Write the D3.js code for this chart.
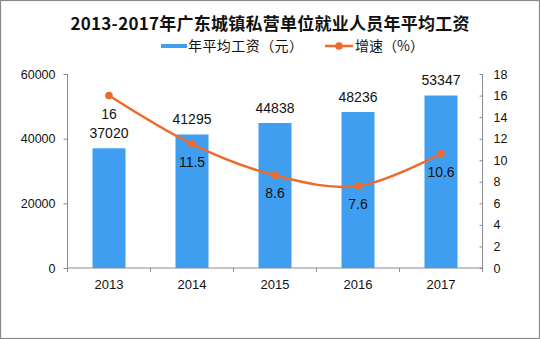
<!DOCTYPE html>
<html>
<head>
<meta charset="utf-8">
<script src="https://cdn.jsdelivr.net/npm/d3@7"></script>
<style>
  html, body { margin: 0; padding: 0; background: #fff; }
  svg { display: block; }
  text { font-family: "Liberation Sans", "Noto Sans CJK SC", sans-serif; }
</style>
</head>
<body>
<svg id="chart" width="540" height="339"></svg>
<script>
const titleText = "2013-2017年广东城镇私营单位就业人员年平均工资";
const categories = ["2013", "2014", "2015", "2016", "2017"];
const wages = [37020, 41295, 44838, 48236, 53347];
const growth = [16, 11.5, 8.6, 7.6, 10.6];
const leftTicks = [0, 20000, 40000, 60000];
const rightTicks = [0, 2, 4, 6, 8, 10, 12, 14, 16, 18];
const legendLabels = ["年平均工资（元）", "增速（%）"];

const barColor = "#3f9ef0";
const lineColor = "#ee6a2b";
const axisColor = "#8c8c8c";

const svg = d3.select("#chart");
const W = 540, H = 339;
const plot = { left: 67.5, right: 482.5, top: 74, bottom: 268 };

// frame
svg.append("rect").attr("x", 0.5).attr("y", 0.5).attr("width", W - 1).attr("height", H - 1)
  .attr("fill", "#fff").attr("stroke", "#888").attr("stroke-width", 1.2);

// title
svg.append("text").attr("x", 70.5).attr("y", 29.5)
  .style("font-family", "'Noto Sans CJK SC', sans-serif")
  .style("font-weight", "bold").style("font-size", "17px").attr("fill", "#111")
  .attr("textLength", 399).attr("lengthAdjust", "spacing")
  .text(titleText);

// legend
const lg = svg.append("g");
lg.append("rect").attr("x", 161).attr("y", 44).attr("width", 26).attr("height", 4).attr("fill", barColor);
lg.append("text").attr("x", 188).attr("y", 51).style("font-family", "'Noto Sans CJK SC', sans-serif")
  .style("font-size", "14px").attr("fill", "#111")
  .attr("textLength", 115).attr("lengthAdjust", "spacing").text(legendLabels[0]);
lg.append("line").attr("x1", 325).attr("x2", 353).attr("y1", 46).attr("y2", 46)
  .attr("stroke", lineColor).attr("stroke-width", 2.5);
lg.append("circle").attr("cx", 339).attr("cy", 46).attr("r", 3.8).attr("fill", lineColor);
lg.append("text").attr("x", 355).attr("y", 51).style("font-family", "'Noto Sans CJK SC', sans-serif")
  .style("font-size", "14px").attr("fill", "#111").text(legendLabels[1]);

// scales
const xBand = d3.scaleBand().domain(categories).range([plot.left, plot.right]);
const yL = d3.scaleLinear().domain([0, 60000]).range([plot.bottom, plot.top]);
const yR = d3.scaleLinear().domain([0, 18]).range([plot.bottom, plot.top]);

// bars
svg.append("g").selectAll("rect").data(categories).join("rect")
  .attr("x", d => xBand(d) + xBand.bandwidth() / 2 - 16.5)
  .attr("width", 33)
  .attr("y", (d, i) => yL(wages[i]))
  .attr("height", (d, i) => plot.bottom - yL(wages[i]))
  .attr("fill", barColor);

// left axis
const axL = svg.append("g").attr("transform", `translate(${plot.left},0)`)
  .call(d3.axisLeft(yL).tickValues(leftTicks).tickSize(4).tickPadding(8).tickFormat(d3.format("d")));
axL.select(".domain").attr("stroke", axisColor).attr("d", `M-0,${plot.top}V${plot.bottom}`);
axL.selectAll(".tick line").attr("stroke", axisColor);
axL.selectAll(".tick text").attr("fill", "#111").style("font-size", "12.5px").style("font-family", "'Liberation Sans', sans-serif");

// right axis
const axR = svg.append("g").attr("transform", `translate(${plot.right},0)`)
  .call(d3.axisRight(yR).tickValues(rightTicks).tickSize(-3).tickPadding(11));
axR.select(".domain").attr("stroke", axisColor).attr("d", `M0,${plot.top}V${plot.bottom}`);
axR.selectAll(".tick line").attr("stroke", axisColor);
axR.selectAll(".tick text").attr("fill", "#111").style("font-size", "12.5px").style("font-family", "'Liberation Sans', sans-serif");

// bottom axis
const axB = svg.append("g").attr("transform", `translate(0,${plot.bottom})`);
axB.append("line").attr("x1", plot.left).attr("x2", plot.right).attr("y1", 0).attr("y2", 0).attr("stroke", axisColor);
const boundaries = categories.map(c => xBand(c)).concat([plot.right]);
axB.selectAll("line.tk").data(boundaries).join("line").attr("class", "tk")
  .attr("x1", d => d).attr("x2", d => d).attr("y1", 0).attr("y2", 4).attr("stroke", axisColor);
axB.selectAll("text").data(categories).join("text")
  .attr("x", d => xBand(d) + xBand.bandwidth() / 2).attr("y", 21)
  .attr("text-anchor", "middle").attr("fill", "#111").style("font-size", "13px")
  .text(d => d);

// bar labels
svg.append("g").selectAll("text").data(categories).join("text")
  .attr("x", d => xBand(d) + xBand.bandwidth() / 2)
  .attr("y", (d, i) => yL(wages[i]) - 10.5)
  .attr("text-anchor", "middle").attr("fill", "#111").style("font-size", "14px")
  .text((d, i) => wages[i]);

// line
const pts = categories.map((c, i) => [xBand(c) + xBand.bandwidth() / 2, yR(growth[i])]);
svg.append("path").attr("d", d3.line().curve(d3.curveCardinal.tension(0))(pts))
  .attr("fill", "none").attr("stroke", lineColor).attr("stroke-width", 2.5);
svg.append("g").selectAll("circle").data(pts).join("circle")
  .attr("cx", d => d[0]).attr("cy", d => d[1]).attr("r", 3.8).attr("fill", lineColor);

// line labels
svg.append("g").selectAll("text").data(categories).join("text")
  .attr("x", d => xBand(d) + xBand.bandwidth() / 2)
  .attr("y", (d, i) => yR(growth[i]) + 23)
  .attr("text-anchor", "middle").attr("fill", "#111").style("font-size", "14px")
  .text((d, i) => growth[i]);
</script>
</body>
</html>
